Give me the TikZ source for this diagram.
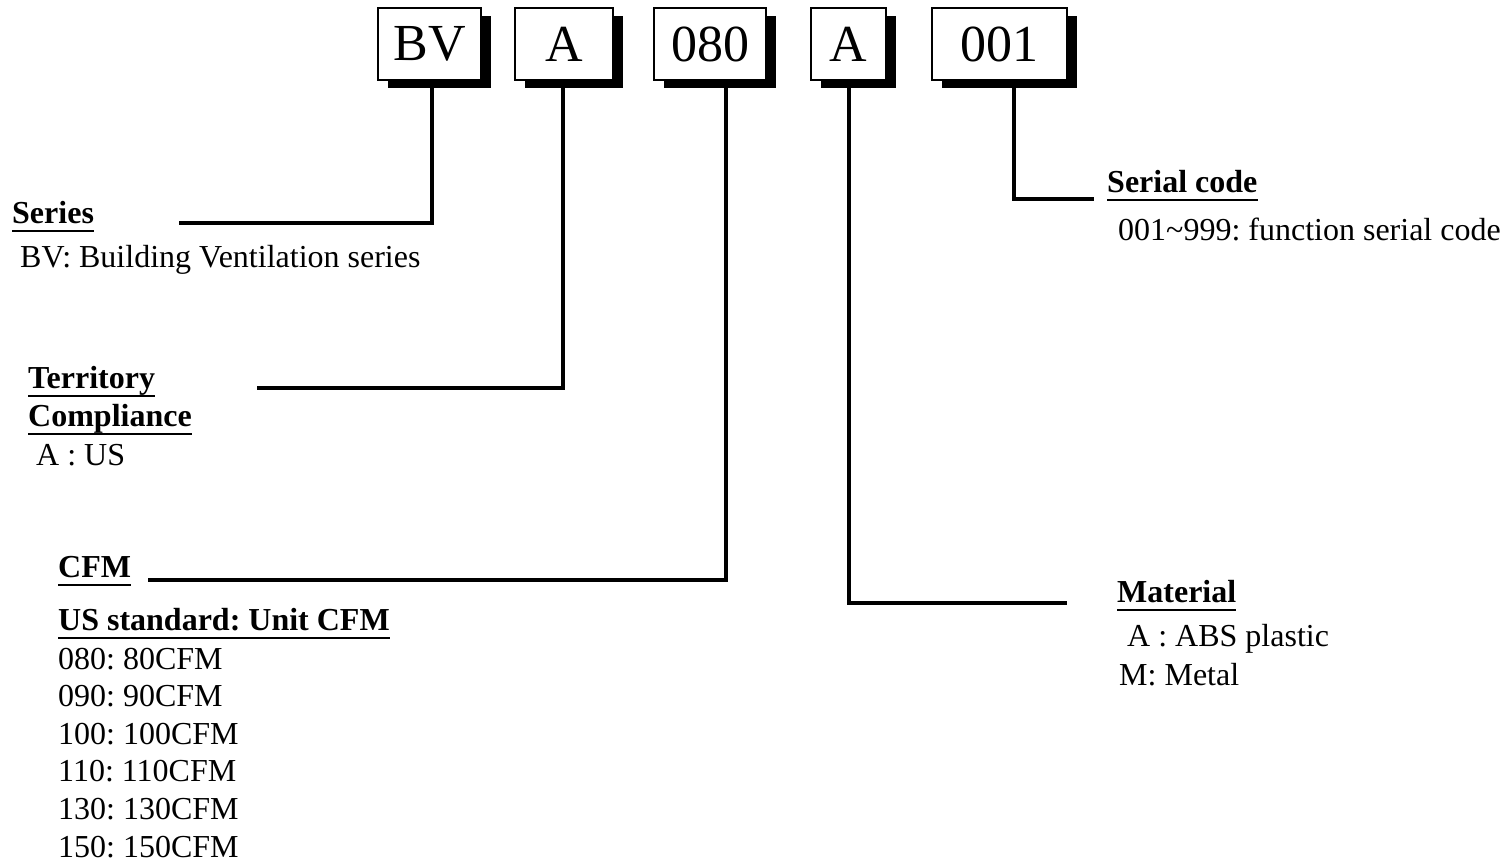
\documentclass[tikz,border=0pt]{standalone}
\usepackage{fontspec}
\setmainfont{Liberation Serif}
\frenchspacing
\usetikzlibrary{shadows}
\tikzset{
  codebox/.style={draw=black, line width=2.4pt, fill=white, minimum height=71.6pt, inner sep=0pt,
    font=\fontsize{52}{60}\selectfont,
    drop shadow={shadow xshift=10pt, shadow yshift=-8pt, opacity=1, fill=black}},
  lead/.style={line width=4.2pt, line join=miter},
  head/.style={anchor=base west, inner sep=0pt, font=\fontsize{32}{38}\selectfont\bfseries},
  body/.style={anchor=base west, inner sep=0pt, font=\fontsize{32}{38}\selectfont},
  uline/.style={line width=2pt}
}
\newcommand\ulnode[1]{\draw[uline] ([yshift=-7.5pt]#1.base west) -- ([yshift=-7.5pt]#1.base east);}
\begin{document}
\begin{tikzpicture}[x=1pt,y=-1pt]
\useasboundingbox (0,0) rectangle (1509,864);
% code boxes
\node[codebox, minimum width=102.6pt] (bv)  at (429.5,44) {BV};
\node[codebox, minimum width=97.6pt]  (ta)  at (564,44)   {A};
\node[codebox, minimum width=111.6pt] (cf)  at (710,44)   {080};
\node[codebox, minimum width=74.6pt]  (ma)  at (848.5,44) {A};
\node[codebox, minimum width=134.6pt] (sc)  at (999.5,44) {001};
% free ends of connectors
\coordinate (serEnd) at (179,223);
\coordinate (terEnd) at (257,388);
\coordinate (cfmEnd) at (148,580);
\coordinate (matEnd) at (1067,603);
\coordinate (scEnd)  at (1094,199);
\draw[lead] ([xshift=2.5pt]bv.south) |- (serEnd);
\draw[lead] ([xshift=-1pt]ta.south) |- (terEnd);
\draw[lead] ([xshift=16pt]cf.south) |- (cfmEnd);
\draw[lead] ([xshift=0.5pt]ma.south) |- (matEnd);
\draw[lead] ([xshift=14.5pt]sc.south) |- (scEnd);
% labels
\node[head] (ser) at (12,223) {Series}; \ulnode{ser}
\node[body] (serd) at (20,267) {BV: Building Ventilation series};
\node[head] (ter1) at (28,388) {Territory}; \ulnode{ter1}
\node[head] (ter2) at (28,426) {Compliance}; \ulnode{ter2}
\node[body] (terd) at (36,465) {A : US};
\node[head] (cfm) at (58,577) {CFM}; \ulnode{cfm}
\node[head] (cfms) at (58,630) {US standard: Unit CFM}; \ulnode{cfms}
\node[body] (l1) at (58,669) {080: 80CFM};
\node[body] (l2) at (58,706.6) {090: 90CFM};
\node[body] (l3) at (58,744.2) {100: 100CFM};
\node[body] (l4) at (58,781.8) {110: 110CFM};
\node[body] (l5) at (58,819.4) {130: 130CFM};
\node[body] (l6) at (58,857) {150: 150CFM};
\node[head] (scl) at (1107,192) {Serial code}; \ulnode{scl}
\node[body] (scd) at (1118,240) {001\textasciitilde999: function serial code};
\node[head] (mat) at (1117,602) {Material}; \ulnode{mat}
\node[body] (mat1) at (1127,646) {A : ABS plastic};
\node[body] (mat2) at (1119,685) {M: Metal};
\end{tikzpicture}
\end{document}
